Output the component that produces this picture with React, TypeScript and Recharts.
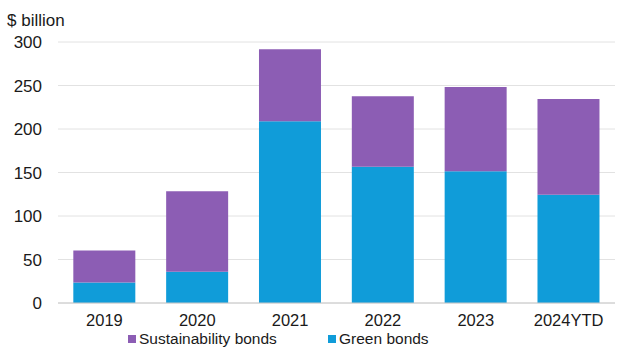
import { Bar, BarChart, CartesianGrid, Legend, XAxis, YAxis } from "recharts";

const years = ["2019", "2020", "2021", "2022", "2023", "2024YTD"];
const greenBonds = [23.6, 36, 209, 156.5, 151.5, 124.5];
const sustainabilityBonds = [36.7, 92.5, 82.6, 81.2, 96.9, 110.1];
const yTicks = [0, 50, 100, 150, 200, 250, 300];

const PURPLE = "#8C5DB4";
const BLUE = "#109CD9";
const FONT = "'Liberation Sans', Arial, sans-serif";

const data = years.map((year, i) => ({
    year,
    green: greenBonds[i],
    sustainability: sustainabilityBonds[i],
}));

const legendItems = [
    { name: "Sustainability bonds", color: PURPLE, width: 200 },
    { name: "Green bonds", color: BLUE, width: 110 },
];

function LegendContent() {
    return (
        <div
            style={{
                display: "flex",
                fontFamily: FONT,
                fontSize: 15.5,
                lineHeight: "18px",
                color: "#1a1a1a",
            }}>
            {legendItems.map((item) => (
                <div
                    key={item.name}
                    style={{ display: "flex", alignItems: "center", width: item.width }}>
                    <span
                        style={{
                            width: 8,
                            height: 8,
                            background: item.color,
                            marginRight: 3,
                            display: "inline-block",
                        }}
                    />
                    <span>{item.name}</span>
                </div>
            ))}
        </div>
    );
}

export default function App() {
    return (
        <div style={{ position: "absolute", left: 0, top: 0, width: 622, height: 364, background: "#fff" }}>
            <BarChart
                width={622}
                height={364}
                data={data}
                barCategoryGap="16.5%"
                margin={{ top: 42, right: 7, bottom: 0, left: 0 }}>
                <CartesianGrid vertical={false} stroke="#e2e2e2" strokeWidth={1} />
                <XAxis
                    dataKey="year"
                    height={41}
                    tickLine={false}
                    axisLine={{ stroke: "#c8c8c8" }}
                    tickMargin={5}
                    tick={{ fill: "#1a1a1a", fontSize: 16.5, fontFamily: FONT }}
                />
                <YAxis
                    width={58}
                    domain={[0, 300]}
                    ticks={yTicks}
                    tickLine={false}
                    axisLine={false}
                    tickMargin={10}
                    tick={{ fill: "#1a1a1a", fontSize: 17, fontFamily: FONT }}
                />
                <Legend
                    verticalAlign="bottom"
                    height={20}
                    content={<LegendContent />}
                    wrapperStyle={{ left: 128, width: "auto", bottom: 14 }}
                />
                <Bar dataKey="green" stackId="a" fill={BLUE} isAnimationActive={false} />
                <Bar dataKey="sustainability" stackId="a" fill={PURPLE} isAnimationActive={false} />
                <text x={7} y={26} fontFamily={FONT} fontSize={17} fill="#1a1a1a">
                    $ billion
                </text>
            </BarChart>
        </div>
    );
}
